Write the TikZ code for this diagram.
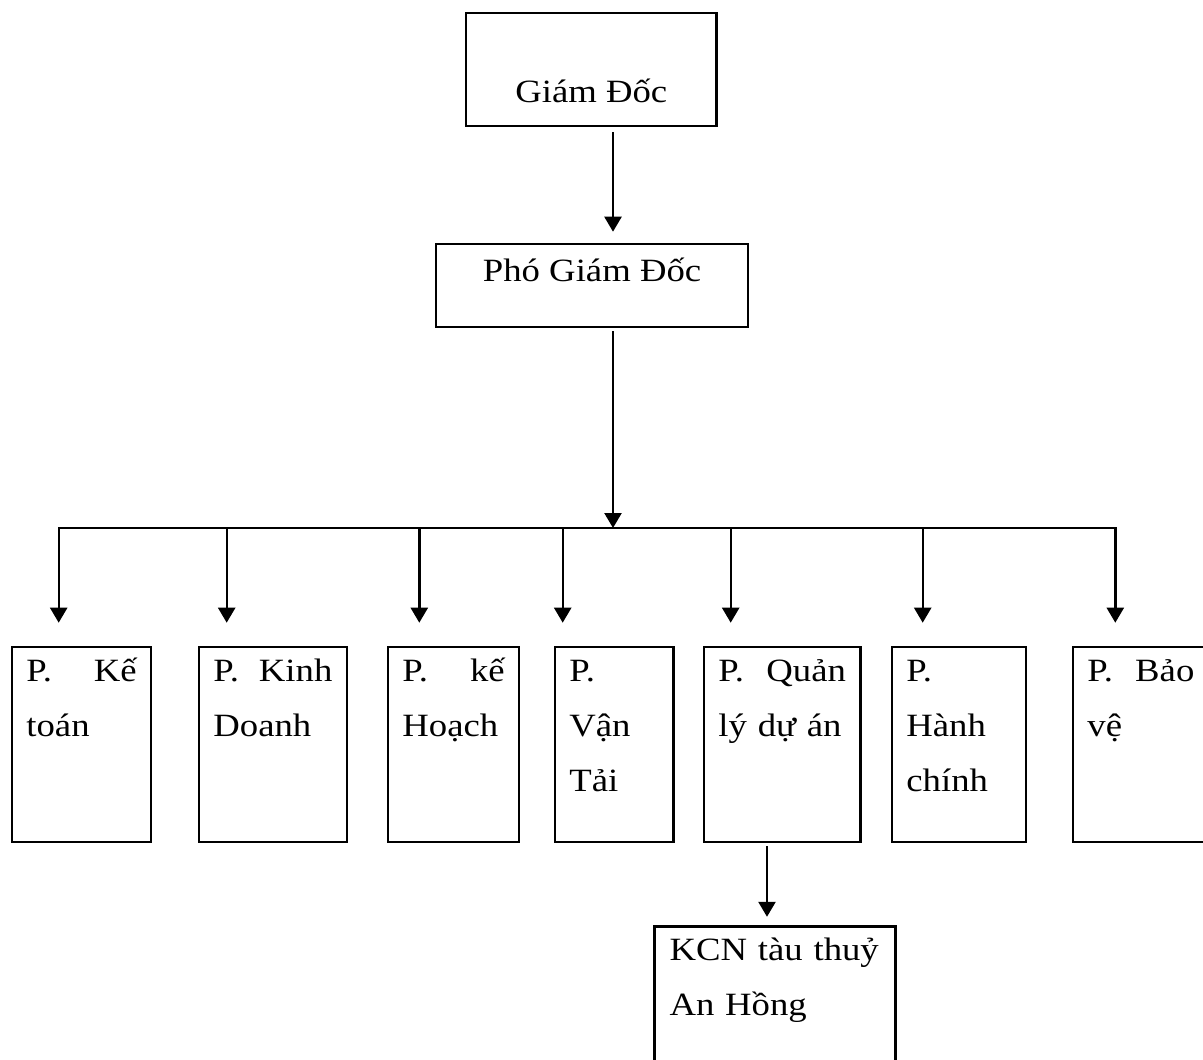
\documentclass[tikz,border=0pt]{standalone}
\usepackage{fontspec}
\setmainfont{Liberation Serif}[FakeStretch=1.13]
\usetikzlibrary{arrows.meta}

\begin{document}
\begin{tikzpicture}[
    % 坐标单位:1pt 对应参考图的 1 个像素,y 轴向下
    x=1pt, y=-1pt,
    % 方框样式:黑色边框,字体统一
    mybox/.style={
        draw=black, % 边框颜色
        line width=2.4pt, % 边框宽度
        inner sep=0pt, % 留白由下面的样式单独给出
        font=\fontsize{32.5pt}{55pt}\selectfont
        },
    % 部门方框:文字放在左上角
    deptbox/.style={
        mybox,
        anchor=north west,
        align=left,
        inner xsep=14.5pt,
        text height=34.3pt, % 首行基线到上边框
        text depth=160.7pt  % 首行基线到下边框
        },
    % 线条与箭头样式
    myline/.style={line width=2.4pt},
    myarrow/.style={myline, -{Triangle[width=17pt,length=15pt]}}
    ]
    \useasboundingbox (0,0) rectangle (1203,1060);
    \clip (0,0) rectangle (1203,1060);
    % ========== 第一步:领导方框 ==========
    \node [mybox, anchor=north, minimum width=250.7pt,
           text height=89.7pt, text depth=23.3pt] (gd) at (591.3,12) {Giám Đốc};
    \node [mybox, anchor=north, minimum width=312.3pt,
           text height=37.3pt, text depth=45.7pt] (pgd) at (592.1,242.7) {Phó Giám Đốc};
    \coordinate (bus) at (613,528); % 分支横线上的汇合点
    \draw [myarrow, shorten <=5pt, shorten >=11pt] (gd.south -| bus) -- (pgd.north -| bus);
    \draw [myarrow, shorten <=3pt] (pgd.south -| bus) -- (bus);
    % ========== 第二步:批量绘制部门方框 + 竖直箭头 ==========
    \foreach \name/\x/\tw/\dx/\txt in {
        ketoan/10.7/110.3/58.7/{P.\hfill Kế\\toán},
        kinhdoanh/197.7/119/226.7/{P.\hfill Kinh\\Doanh},
        kehoach/386.7/102.3/419.3/{P.\hfill kế\\Hoạch},
        vantai/553.7/89.6/562.7/{P.\\Vận\\Tải},
        quanly/702.7/127.6/730.7/{P.\hfill Quản\\lý dự án},
        hanhchinh/890.7/105.3/922.7/{P.\\Hành\\chính},
        baove/1071.7/107/1115.3/{P.\hfill Bảo\\vệ}} {
        \node [deptbox, text width=\tw pt] (\name) at (\x,645.7) {\txt};
        \coordinate (d\name) at (\dx,528);
        \draw [myarrow, shorten >=23pt] (d\name) -- (d\name |- \name.north);
    }
    \draw [myline, line cap=rect] (dketoan) -- (dbaove); % 分支横线
    % ========== 第三步:下属单位 ==========
    \node [deptbox, inner xsep=15pt, text width=211pt] (kcn) at (653.3,925.3)
        {KCN tàu thuỷ\\An Hồng};
    \coordinate (sub) at (767,0);
    \draw [myarrow, shorten <=3pt, shorten >=8.5pt] (quanly.south -| sub) -- (kcn.north -| sub);
\end{tikzpicture}
\end{document}
